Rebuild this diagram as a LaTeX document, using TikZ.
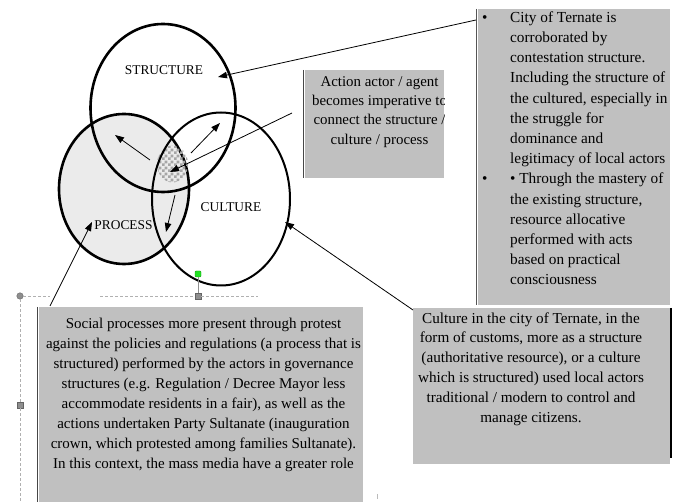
\documentclass[tikz,border=0pt]{standalone}
\usepackage{fontspec}
\setmainfont{Liberation Serif}
\usetikzlibrary{shapes.geometric,arrows.meta,patterns,positioning}

\definecolor{panelgray}{HTML}{C0C0C0}
\definecolor{lensgray}{HTML}{EBEBEB}
\definecolor{gripgray}{HTML}{8E8E8E}
\definecolor{rotgreen}{HTML}{22E022}

% small checker tiles for the overlap
\pgfdeclarepatternformonly{checks}{\pgfpointorigin}{\pgfqpoint{6pt}{6pt}}{\pgfqpoint{6pt}{6pt}}{%
  \pgfpathrectangle{\pgfpointorigin}{\pgfqpoint{3pt}{3pt}}%
  \pgfpathrectangle{\pgfqpoint{3pt}{3pt}}{\pgfqpoint{3pt}{3pt}}%
  \pgfusepath{fill}}

\begin{document}
\begin{tikzpicture}[x=1pt, y=-1pt,
    circ/.style={ellipse, draw, inner sep=0pt, outer sep=0pt},
    tag/.style={anchor=base, inner sep=0pt, font=\fontsize{13.4}{16}\selectfont},
    panel/.style={rectangle, fill=panelgray, anchor=north west, inner sep=0pt, outer sep=0pt},
    pointer/.style={-{Triangle[length=9pt,width=6.5pt]}, line width=0.8pt},
    grip/.style={fill=gripgray, draw=gripgray!70!black, inner sep=0pt, minimum size=6.5pt},
    sel/.style={densely dashed, draw=gripgray!70, line width=0.6pt}]

    \useasboundingbox (0,0) rectangle (678,502);

    % Circles
    \node(process) [circ, fill=lensgray, line width=2.6pt, minimum width=130pt, minimum height=150pt] at (124,189) {};
    \node(agency) [ellipse, inner sep=0pt, fill=white, pattern=checks, pattern color=gray!70,
        minimum width=31pt, minimum height=37pt] at (172.5,164) {};
    \node(structure) [circ, line width=2.6pt, minimum width=145pt, minimum height=168pt] at (163,108) {};
    \node(culture) [circ, line width=2pt, minimum width=138pt, minimum height=173pt] at (221,199) {};

    \node(structure-lbl) [tag] at (164,75) {STRUCTURE};
    \node(process-lbl) [tag] at (123.5,230) {PROCESS};
    \node(culture-lbl) [tag] at (231,212) {CULTURE};

    % Panels
    \node(ternate) [panel, minimum width=192pt, minimum height=296pt] at (478,9) {};
    \draw[gripgray!60!black, line width=1.5pt] (ternate.north west) ++(-1.5,0) coordinate(t-top) -- (t-top |- ternate.south west);
    \node(ternate-txt) [anchor=north west, inner sep=0pt, font=\fontsize{15.3}{20.2}\selectfont] at (482,7.9)
        {\begin{tabular}{@{}p{28pt}@{}l@{}}
        \textbullet & City of Ternate is\\
         & corroborated by\\
         & contestation structure.\\
         & Including the structure of\\
         & the cultured, especially in\\
         & the struggle for\\
         & dominance and\\
         & legitimacy of local actors\\
        \textbullet & \textbullet{} Through the mastery of\\
         & the existing structure,\\
         & resource allocative\\
         & performed with acts\\
         & based on practical\\
         & consciousness
        \end{tabular}};

    \node(agent) [panel, minimum width=139pt, minimum height=108pt] at (305,70) {};
    \draw[gripgray!50!black, line width=1.5pt] (agent.north west) ++(-1.5,0) coordinate(a-top) -- (a-top |- agent.south west);
    \begin{scope}
        \clip (agent.north west) rectangle (agent.south east);
        \node(agent-txt) [anchor=north, inner sep=0pt, font=\fontsize{14.9}{19.3}\selectfont] at (379.5,72.5)
            {\begin{tabular}{@{}c@{}}
            Action actor / agent\\
            becomes imperative to\\
            connect the structure /\\
            culture / process
            \end{tabular}};
    \end{scope}

    \node(social) [panel, minimum width=324pt, minimum height=196pt] at (39,307) {};
    \draw[gripgray!50!black, line width=1.8pt] (social.north west) ++(-1.5,0) coordinate(s-top) -- (s-top |- social.south west);
    \node(social-txt) [anchor=north, inner sep=0pt, font=\fontsize{15}{20}\selectfont] at (203.5,314)
        {\begin{tabular}{@{}c@{}}
        Social processes more present through protest\\
        against the policies and regulations (a process that is\\
        structured) performed by the actors in governance\\
        structures (e.g. Regulation / Decree Mayor less\\
        accommodate residents in a fair), as well as the\\
        actions undertaken Party Sultanate (inauguration\\
        crown, which protested among families Sultanate).\\
        In this context, the mass media have a greater role
        \end{tabular}};

    \node(custom) [panel, minimum width=257pt, minimum height=156pt] at (413,308) {};
    \draw[black, line width=1.8pt] (custom.north east) ++(1,0) coordinate(c-top) -- ++(0,150);
    \node(custom-txt) [anchor=north, inner sep=0pt, font=\fontsize{15.2}{19.8}\selectfont] at (531,309)
        {\begin{tabular}{@{}c@{}}
        Culture in the city of Ternate, in the\\
        form of customs, more as a structure\\
        (authoritative resource), or a culture\\
        which is structured) used local actors\\
        traditional / modern to control and\\
        manage citizens.
        \end{tabular}};

    % Arrows
    \coordinate(t-tail) at (476,20);
    \coordinate(s-tip) at (218,77);
    \draw[pointer] (t-tail) -- (s-tip);

    \coordinate(a-tail) at (292,113);
    \coordinate(g-tip) at (170,172);
    \draw[pointer] (a-tail) -- (g-tip);

    \coordinate(g-left) at (150,160);
    \coordinate(g-right) at (191,153);
    \coordinate(g-down) at (175,195);
    \draw[pointer] (g-left) -- (115,135);
    \draw[pointer] (g-right) -- (220,123);
    \draw[pointer] (g-down) -- (166,232);

    \coordinate(so-tail) at (50,306);
    \coordinate(p-tip) at (92,222);
    \draw[pointer] (so-tail) -- (p-tip);

    \coordinate(cu-tail) at (413,310);
    \coordinate(c-tip) at (285,222);
    \draw[pointer] (cu-tail) -- (c-tip);

    % Selection frame
    \node(grip-a) [grip, circle] at (20,296) {};
    \node(grip-b) [grip] at (198,296) {};
    \node(grip-c) [grip] at (20,405) {};
    \node(rot) [fill=rotgreen, draw=rotgreen!70!black, rounded corners=1pt, inner sep=0pt, minimum size=6pt] at (198,274) {};
    \draw[sel] (grip-a) -- (50,296);
    \draw[sel] (100,296) -- (grip-b) -- (258,296);
    \draw[sel] (grip-a) -- (grip-c) -- (20,502);
    \draw[gripgray, line width=0.8pt] (rot) -- (grip-b);
    \draw[gripgray!60, line width=0.6pt] (377,494) -- (377,499);

\end{tikzpicture}
\end{document}
